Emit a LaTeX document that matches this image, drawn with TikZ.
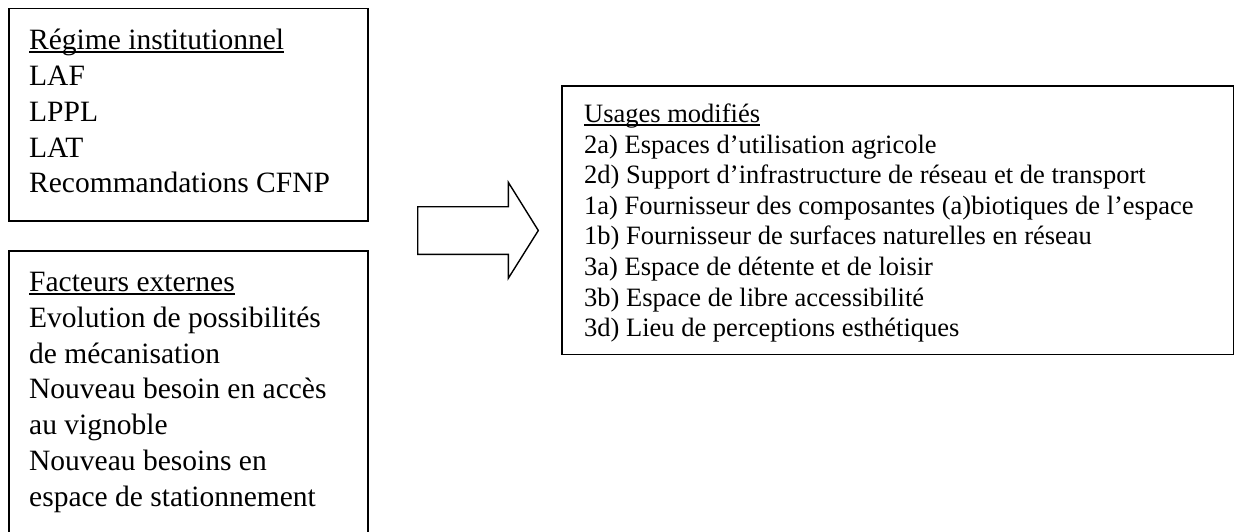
\documentclass[tikz,border=0pt]{standalone}
\usepackage{fontspec}
\setmainfont{Liberation Serif}
\newlength\ulwd
% Word-style underline: a thin rule just under the baseline, through descenders
\newcommand\wordul[1]{\settowidth\ulwd{#1}\makebox[0pt][l]{\rule[-0.12em]{\ulwd}{0.055em}}#1}
\tikzset{
  frame/.style={draw=black, line width=1.4pt},
  bigtxt/.style={anchor=base west, inner sep=0pt, font=\fontsize{29.5}{35.8}\selectfont},
  smalltxt/.style={anchor=base west, inner sep=0pt, font=\fontsize{26.5}{30.6}\selectfont},
}
\begin{document}
\begin{tikzpicture}[x=1pt, y=-1pt]
\useasboundingbox (0,0) rectangle (1236,531);
\clip (0,0) rectangle (1236,531);

% left column: two framed boxes
\draw[frame] (9,8.5) rectangle (368,221);
\draw[frame] (9,251) rectangle (368,545);

\node[bigtxt] (r0) at (29,49.3)  {\wordul{Régime institutionnel}};
\node[bigtxt] (r1) at (29,85.2)  {LAF};
\node[bigtxt] (r2) at (29,121.1) {LPPL};
\node[bigtxt] (r3) at (29,157)   {LAT};
\node[bigtxt] (r4) at (29,192.9) {Recommandations CFNP};

\node[bigtxt] (f0) at (29,291.5) {\wordul{Facteurs externes}};
\node[bigtxt] (f1) at (29,327.3) {Evolution de possibilités};
\node[bigtxt] (f2) at (29,363.1) {de mécanisation};
\node[bigtxt] (f3) at (29,398.9) {Nouveau besoin en accès};
\node[bigtxt] (f4) at (29,434.7) {au vignoble};
\node[bigtxt] (f5) at (29,470.5) {Nouveau besoins en};
\node[bigtxt] (f6) at (29,506.3) {espace de stationnement};

% block arrow
\draw[line width=1.4pt, line join=miter]
  (417.7,206.7) -- (508.3,206.7) -- (508.3,182.3) -- (538.3,230.5)
  -- (508.3,278.3) -- (508.3,254.3) -- (417.7,254.3) -- cycle;

% right box
\draw[frame] (562,86) rectangle (1233.3,354.5);
\node[smalltxt] (u0) at (584,122.5) {\wordul{Usages modifiés}};
\node[smalltxt] (u1) at (584,153.1) {2a) Espaces d’utilisation agricole};
\node[smalltxt] (u2) at (584,183.7) {2d) Support d’infrastructure de réseau et de transport};
\node[smalltxt] (u3) at (584,214.3) {1a) Fournisseur des composantes (a)biotiques de l’espace};
\node[smalltxt] (u4) at (584,244.9) {1b) Fournisseur de surfaces naturelles en réseau};
\node[smalltxt] (u5) at (584,275.5) {3a) Espace de détente et de loisir};
\node[smalltxt] (u6) at (584,306.1) {3b) Espace de libre accessibilité};
\node[smalltxt] (u7) at (584,336.7) {3d) Lieu de perceptions esthétiques};
\end{tikzpicture}
\end{document}
